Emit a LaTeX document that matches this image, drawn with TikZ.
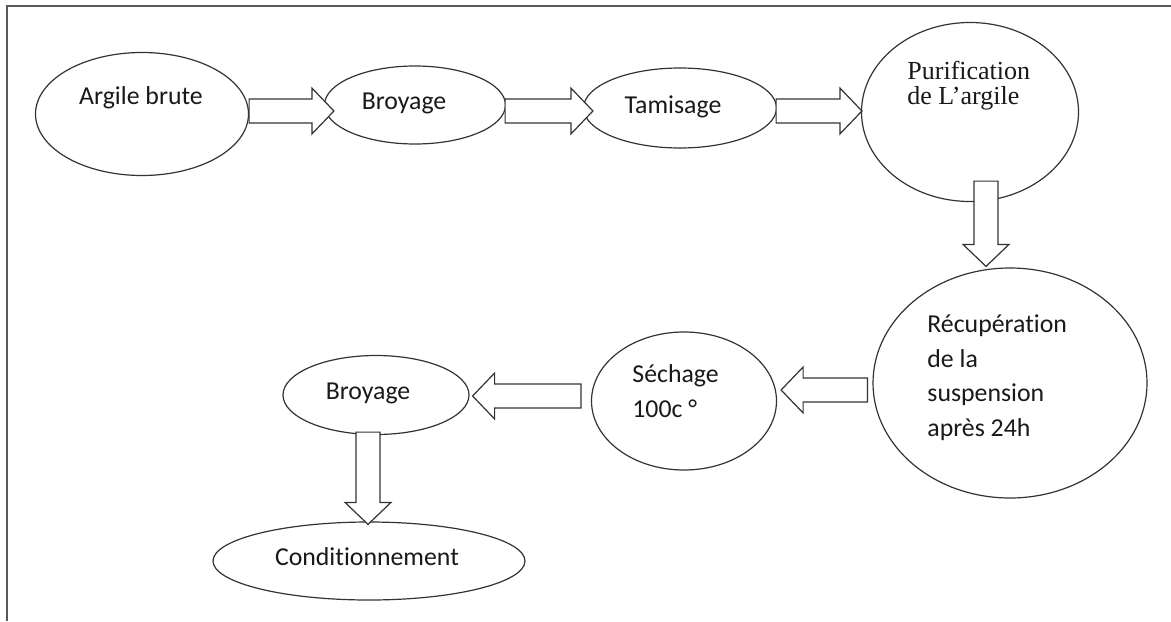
\documentclass[tikz,border=0pt]{standalone}
\usepackage{fontspec}
\setmainfont{Carlito}[Ligatures=NoCommon]
\newfontfamily\timesf{Liberation Serif}
\usetikzlibrary{shapes.geometric,calc,positioning}

\tikzset{
  oval/.style={ellipse, draw=black!80, line width=0.6pt, fill=white, inner sep=0pt},
  lbl/.style={inner sep=0pt, text=black!90, font=\fontsize{12.9}{17.2}\selectfont},
  fat/.style={draw=black!80, line width=0.6pt, fill=white, line join=miter},
}

% hollow block arrow: #1 tail, #2 tip
\newcommand{\fatarrow}[2]{%
  \path #1 coordinate (fa-s) #2 coordinate (fa-t);
  \path ($(fa-t)!11pt!(fa-s)$) coordinate (fa-b);
  \draw[fat] ($(fa-s)!6pt!90:(fa-t)$) -- ($(fa-b)!6pt!-90:(fa-s)$)
    -- ($(fa-b)!11.5pt!-90:(fa-s)$) -- (fa-t)
    -- ($(fa-b)!11.5pt!90:(fa-s)$) -- ($(fa-b)!6pt!90:(fa-s)$)
    -- ($(fa-s)!6pt!-90:(fa-t)$) -- cycle;
}

\begin{document}
\begin{tikzpicture}[x=0.5pt,y=-0.5pt]
\useasboundingbox (0,0) rectangle (1171,621);
\draw[black!65, line width=1pt] (7,621) -- (7,6) -- (1171,6);

% top row
\node[oval, minimum width=106.5pt, minimum height=61.5pt] (argile) at (142,114) {};
\node[oval, minimum width=90.5pt, minimum height=39pt] (broy1) at (415,105) {};
\node[oval, minimum width=96.5pt, minimum height=40pt] (tamis) at (680,108) {};
\node[oval, minimum width=108.5pt, minimum height=89.5pt] (purif) at (970,112) {};
% bottom row
\node[oval, minimum width=137pt, minimum height=115pt] (recup) at (1010,383) {};
\node[oval, minimum width=92.5pt, minimum height=69pt] (sech) at (684,401) {};
\node[oval, minimum width=93pt, minimum height=39.5pt] (broy2) at (376,395) {};
\node[oval, minimum width=156pt, minimum height=39pt] (cond) at (369,561) {};

\fatarrow{($(argile.east)+(0,-3)$)}{($(broy1.west)+(10,6)$)}
\fatarrow{($(broy1.east)+(-1,6)$)}{($(tamis.west)+(10,3)$)}
\fatarrow{($(tamis.east)+(-1,3)$)}{($(purif.west)+(1,-1)$)}
\fatarrow{($(purif.south)+(16,-21)$)}{($(recup.north)+(-24,-1)$)}
\fatarrow{($(recup.west)+(-5,7)$)}{($(sech.east)+(4,-11)$)}
\fatarrow{($(sech.west)+(-10,-5)$)}{($(broy2.east)+(3,1)$)}
\fatarrow{($(broy2.south)+(-8,-3)$)}{($(cond.north)+(-1,3)$)}

% labels (multi-line ones sit on their last baseline)
\node[lbl, anchor=base] (argile-t) at (141,104) {Argile brute};
\node[lbl, anchor=base] (broy1-t) at (404,109) {Broyage};
\node[lbl, anchor=base] (tamis-t) at (673,113) {Tamisage};
\node[lbl, anchor=base west, align=left, font=\timesf\fontsize{13}{12.5}\selectfont] (purif-t) at (907,104) {Purification\\de L’argile};
\node[lbl, anchor=base west, align=left] (recup-t) at (927,436) {Récupération\\de la\\suspension\\après 24h};
\node[lbl, anchor=base west, align=left] (sech-t) at (632,417) {Séchage\\100c °};
\node[lbl, anchor=base] (broy2-t) at (368,399) {Broyage};
\node[lbl, anchor=base] (cond-t) at (367,565) {Conditionnement};
\end{tikzpicture}
\end{document}
